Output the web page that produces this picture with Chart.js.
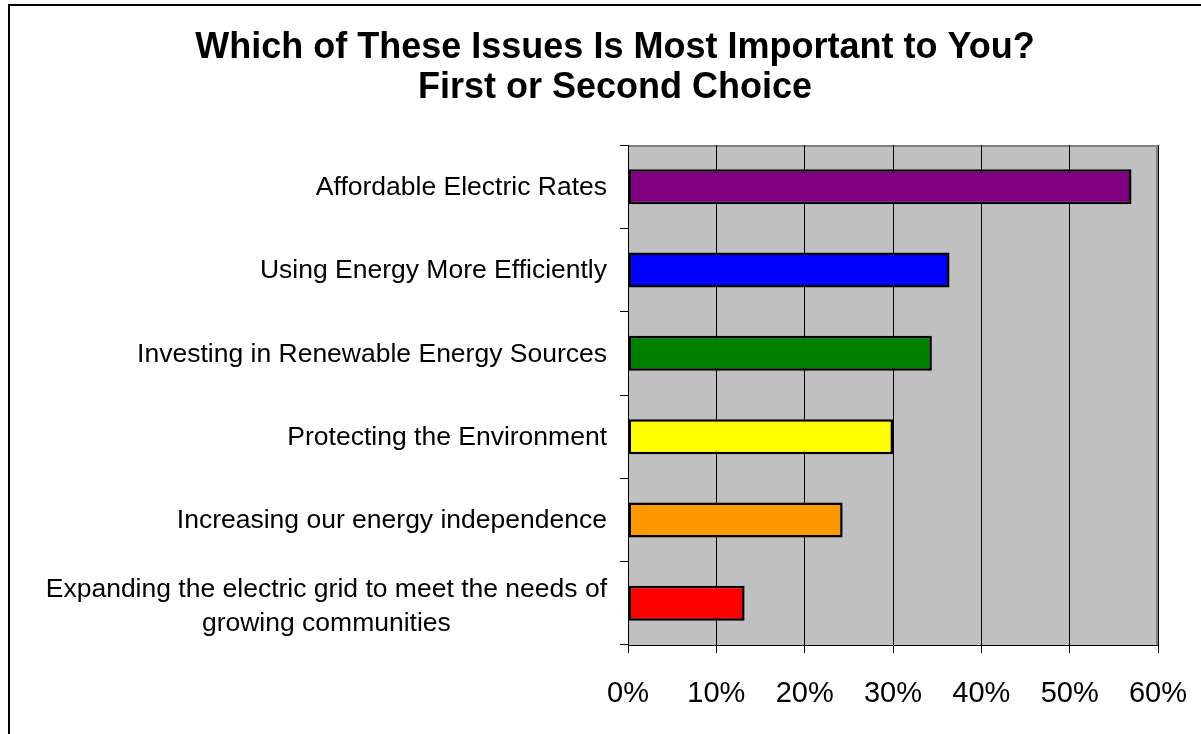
<!DOCTYPE html>
<html>
<head>
<meta charset="utf-8">
<script src="https://cdn.jsdelivr.net/npm/chart.js@4"></script>
<style>
  html, body { margin: 0; padding: 0; background: #fff; }
  #wrap { width: 1201px; height: 734px; }
</style>
</head>
<body>
<div id="wrap"><canvas id="chart" width="1201" height="734"></canvas></div>
<script>
// chart data
const titleLines = ['Which of These Issues Is Most Important to You?', 'First or Second Choice'];
const categories = [
  'Affordable Electric Rates',
  'Using Energy More Efficiently',
  'Investing in Renewable Energy Sources',
  'Protecting the Environment',
  'Increasing our energy independence',
  ['Expanding the electric grid to meet the needs of', 'growing communities']
];
const shares = [57, 36.4, 34.4, 30, 24.3, 13.2];
const xTicks = [0, 10, 20, 30, 40, 50, 60];

const barColors = ['#800080', '#0000FF', '#008000', '#FFFF00', '#FF9900', '#FF0000'];
const FONT = '"Liberation Sans", Arial, Helvetica, sans-serif';

// white page, outer frame, grey plot area
const backdrop = {
  id: 'backdrop',
  beforeDraw(chart) {
    const { ctx, chartArea: a } = chart;
    ctx.save();
    ctx.fillStyle = '#fff';
    ctx.fillRect(0, 0, chart.width, chart.height);
    ctx.strokeStyle = '#000';
    ctx.lineWidth = 2;
    ctx.beginPath();
    ctx.moveTo(9, chart.height);
    ctx.lineTo(9, 5);
    ctx.lineTo(chart.width, 5);
    ctx.stroke();
    ctx.fillStyle = '#C0C0C0';
    ctx.fillRect(a.left, a.top, a.right - a.left, a.bottom - a.top);
    ctx.strokeStyle = '#808080';
    ctx.lineWidth = 2;
    ctx.beginPath();
    ctx.moveTo(a.left, a.top + 1);
    ctx.lineTo(a.right - 1, a.top + 1);
    ctx.lineTo(a.right - 1, a.bottom);
    ctx.stroke();
    ctx.restore();
  }
};

// category labels: right aligned, wrapped label centred on its longest line
const catLabels = {
  id: 'catLabels',
  afterDraw(chart) {
    const { ctx } = chart;
    const y = chart.scales.y;
    const right = y.right - 21;
    ctx.save();
    ctx.font = '26.5px ' + FONT;
    ctx.fillStyle = '#000';
    ctx.textBaseline = 'middle';
    ctx.textAlign = 'center';
    categories.forEach((lab, i) => {
      const lines = Array.isArray(lab) ? lab : [lab];
      const cy = y.getPixelForValue(i) + 1;
      const lh = 34;
      const widest = Math.max(...lines.map(l => ctx.measureText(l).width));
      const cx = right - widest / 2;
      lines.forEach((l, k) => {
        ctx.fillText(l, cx, cy + (k - (lines.length - 1) / 2) * lh + (lines.length > 1 ? 2 : 0));
      });
    });
    ctx.restore();
  }
};

new Chart(document.getElementById('chart'), {
  type: 'bar',
  data: {
    labels: categories,
    datasets: [{
      data: shares,
      backgroundColor: barColors,
      borderColor: '#000',
      borderWidth: 2.5,
      borderSkipped: false,
      barPercentage: 0.42,
      categoryPercentage: 1
    }]
  },
  options: {
    indexAxis: 'y',
    responsive: false,
    animation: false,
    layout: { padding: { top: 0, left: 72, right: 43, bottom: 0 } },
    plugins: {
      legend: { display: false },
      tooltip: { enabled: false },
      title: {
        display: true,
        text: titleLines,
        color: '#000',
        font: { family: FONT, size: 36, weight: 'bold', lineHeight: 40 / 36 },
        padding: { top: 28, bottom: 37 }
      }
    },
    scales: {
      x: {
        min: xTicks[0],
        max: xTicks[xTicks.length - 1],
        afterBuildTicks(scale) { scale.ticks = xTicks.map(v => ({ value: v })); },
        afterFit(scale) {
          scale.height = 89;
          scale.paddingLeft = 0;
          scale.paddingRight = 0;
        },
        grid: { color: '#000', lineWidth: 1, tickLength: 8, tickColor: '#000' },
        border: { color: '#000', width: 1 },
        ticks: {
          color: '#000',
          padding: 24,
          font: { family: FONT, size: 29 },
          callback: v => v + '%'
        }
      },
      y: {
        afterFit(scale) { scale.width = 628 - 72; },
        grid: { offset: true, drawOnChartArea: false, tickLength: 8, tickColor: '#000' },
        border: { color: '#000', width: 1 },
        ticks: { display: false }
      }
    }
  },
  plugins: [backdrop, catLabels]
});
</script>
</body>
</html>
